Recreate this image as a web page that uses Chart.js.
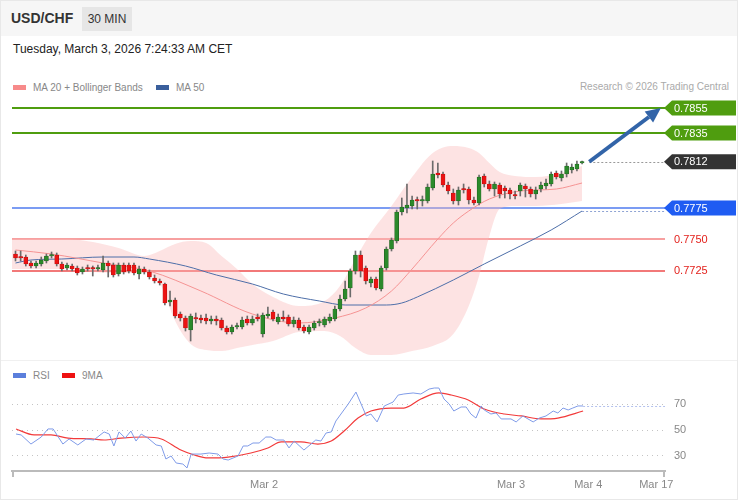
<!DOCTYPE html>
<html>
<head>
<meta charset="utf-8">
<script src="https://cdn.jsdelivr.net/npm/chart.js@4.4.1/dist/chart.umd.min.js"></script>
<style>
  body { margin: 0; background: #fff; font-family: "Liberation Sans", Arial, sans-serif; }
  #wrap { position: relative; width: 738px; height: 500px; box-sizing: border-box; border: 1px solid #e8e8e8; overflow: hidden; }
  #head { position: absolute; left: 0; top: 0; width: 738px; height: 35px; background: #f6f6f6; }
  #pair { position: absolute; left: 10px; top: 9px; font-size: 14px; font-weight: bold; color: #333; }
  #tf { position: absolute; left: 81px; top: 6px; width: 50px; height: 24px; line-height: 24px; text-align: center; background: #e6e6e6; font-size: 12px; color: #333; }
  #date { position: absolute; left: 12px; top: 41px; font-size: 12px; color: #222; }
  .legend { position: absolute; font-size: 10px; color: #888; white-space: nowrap; }
  .sw { display: inline-block; width: 13px; height: 5px; vertical-align: middle; margin-right: 7px; position: relative; top: -1px; }
  #credit { position: absolute; right: 8px; top: 80px; font-size: 10px; color: #aaa; }
  #sep { position: absolute; left: 0; top: 359px; width: 738px; height: 1px; background: #f0f0f0; }
  canvas { position: absolute; left: 0; }
</style>
</head>
<body>
<div id="wrap">
  <div id="head">
    <div id="pair">USD/CHF</div>
    <div id="tf">30 MIN</div>
  </div>
  <div id="date">Tuesday, March 3, 2026 7:24:33 AM CET</div>
  <div class="legend" style="left:12px;top:81px"><span class="sw" style="background:#f78a8a"></span>MA 20 + Bollinger Bands</div>
  <div class="legend" style="left:155px;top:81px"><span class="sw" style="background:#3a5f9c"></span>MA 50</div>
  <div id="credit">Research © 2026 Trading Central</div>
  <div id="sep"></div>
  <div class="legend" style="left:12px;top:369px"><span class="sw" style="background:#5b7fdc"></span>RSI</div>
  <div class="legend" style="left:61px;top:369px"><span class="sw" style="background:#ee1111"></span>9MA</div>
  <canvas id="main" width="738" height="265" style="top:95px"></canvas>
  <canvas id="rsi" width="738" height="139" style="top:360px"></canvas>
</div>
<script>
// ---- price candles (30 min bars, index 0..110) ----
const opens = [0.77382,0.77358,0.77358,0.77310,0.77286,0.77302,0.77326,0.77366,0.77374,0.77302,
  0.77270,0.77286,0.77270,0.77238,0.77270,0.77270,0.77262,0.77254,0.77310,0.77294,
  0.77222,0.77294,0.77294,0.77294,0.77222,0.77262,0.77238,0.77190,0.77166,0.77142,
  0.76998,0.77014,0.76902,0.76870,0.76774,0.76870,0.76870,0.76870,0.76846,0.76862,
  0.76854,0.76790,0.76758,0.76798,0.76798,0.76862,0.76830,0.76878,0.76742,0.76886,
  0.76918,0.76838,0.76878,0.76878,0.76822,0.76854,0.76798,0.76758,0.76790,0.76830,
  0.76814,0.76846,0.76862,0.76942,0.77022,0.77110,0.77246,0.77374,0.77270,0.77150,
  0.77182,0.77102,0.77270,0.77422,0.77486,0.77718,0.77750,0.77766,0.77814,0.77806,
  0.77806,0.77910,0.78030,0.78022,0.77934,0.77870,0.77806,0.77902,0.77902,0.77814,
  0.77790,0.78006,0.77942,0.77902,0.77934,0.77910,0.77894,0.77854,0.77886,0.77926,
  0.77902,0.77862,0.77902,0.77926,0.77942,0.78030,0.77990,0.78022,0.78054,0.78062,
  0.78110];
const closes = [0.77350,0.77350,0.77302,0.77286,0.77310,0.77334,0.77366,0.77374,0.77302,0.77262,
  0.77294,0.77262,0.77230,0.77262,0.77262,0.77262,0.77270,0.77310,0.77286,0.77214,
  0.77294,0.77238,0.77246,0.77230,0.77262,0.77238,0.77198,0.77166,0.77150,0.76990,
  0.77014,0.76886,0.76870,0.76790,0.76886,0.76862,0.76854,0.76846,0.76862,0.76846,
  0.76790,0.76758,0.76798,0.76806,0.76854,0.76830,0.76862,0.76862,0.76894,0.76902,
  0.76862,0.76878,0.76862,0.76822,0.76854,0.76790,0.76766,0.76798,0.76830,0.76838,
  0.76862,0.76878,0.76942,0.77022,0.77102,0.77246,0.77374,0.77246,0.77166,0.77182,
  0.77110,0.77270,0.77422,0.77494,0.77718,0.77758,0.77774,0.77814,0.77806,0.77814,
  0.77918,0.78022,0.78014,0.77934,0.77886,0.77806,0.77894,0.77894,0.77814,0.77790,
  0.77998,0.77942,0.77902,0.77942,0.77862,0.77886,0.77862,0.77846,0.77934,0.77902,
  0.77862,0.77894,0.77934,0.77950,0.78022,0.77998,0.78022,0.78086,0.78078,0.78102,
  0.78118];
const highs = [0.77406,0.77406,0.77374,0.77326,0.77326,0.77358,0.77382,0.77398,0.77390,0.77318,
  0.77310,0.77302,0.77286,0.77278,0.77294,0.77286,0.77294,0.77366,0.77326,0.77310,
  0.77310,0.77310,0.77310,0.77310,0.77286,0.77278,0.77254,0.77214,0.77182,0.77150,
  0.77086,0.77030,0.76918,0.76886,0.76902,0.76910,0.76894,0.76902,0.76886,0.76886,
  0.76870,0.76806,0.76814,0.76830,0.76878,0.76886,0.76886,0.76902,0.76910,0.76958,
  0.76934,0.76902,0.76926,0.76894,0.76878,0.76870,0.76814,0.76814,0.76846,0.76862,
  0.76878,0.76902,0.76966,0.77054,0.77166,0.77262,0.77406,0.77406,0.77286,0.77198,
  0.77198,0.77286,0.77438,0.77510,0.77734,0.77830,0.77942,0.77846,0.77838,0.77846,
  0.77942,0.78126,0.78110,0.78038,0.77958,0.77902,0.77918,0.77942,0.77918,0.77838,
  0.78014,0.78022,0.77966,0.77958,0.77950,0.77926,0.77910,0.77886,0.77950,0.77942,
  0.77918,0.77918,0.77958,0.77982,0.78038,0.78046,0.78046,0.78110,0.78102,0.78126,
  0.78126];
const lows = [0.77326,0.77326,0.77286,0.77270,0.77270,0.77286,0.77310,0.77350,0.77286,0.77246,
  0.77254,0.77246,0.77214,0.77222,0.77246,0.77206,0.77246,0.77238,0.77198,0.77198,
  0.77206,0.77222,0.77230,0.77214,0.77182,0.77222,0.77182,0.77150,0.77134,0.76974,
  0.76966,0.76870,0.76846,0.76766,0.76686,0.76830,0.76830,0.76822,0.76822,0.76814,
  0.76774,0.76742,0.76742,0.76782,0.76782,0.76814,0.76814,0.76846,0.76718,0.76870,
  0.76846,0.76822,0.76846,0.76806,0.76798,0.76774,0.76750,0.76742,0.76774,0.76806,
  0.76798,0.76830,0.76846,0.76926,0.77006,0.77038,0.77222,0.77198,0.77142,0.77118,
  0.77094,0.77086,0.77254,0.77406,0.77470,0.77694,0.77710,0.77742,0.77742,0.77766,
  0.77790,0.77894,0.77990,0.77918,0.77862,0.77782,0.77774,0.77870,0.77782,0.77774,
  0.77774,0.77918,0.77886,0.77846,0.77830,0.77830,0.77822,0.77822,0.77846,0.77838,
  0.77838,0.77822,0.77878,0.77902,0.77926,0.77982,0.77966,0.77998,0.78030,0.78046,
  0.78102];

// ---- indicators (x = bar index) ----
const ma20X = [0, 7, 17, 26, 36, 46, 55, 62, 68, 73, 77, 82, 85, 88, 92, 98, 105, 110];
const ma20 = [0.77414,0.77382,0.77310,0.77246,0.77086,0.76902,0.76830,0.76870,0.76950,0.77086,
  0.77262,0.77502,0.77630,0.77726,0.77822,0.77886,0.77902,0.77950];
const ma50X = [0, 3, 9, 17, 23, 26, 33, 39, 46, 52, 59, 64, 72, 75, 78, 85, 91, 98, 104, 110];
const ma50 = [0.77310,0.77334,0.77342,0.77358,0.77358,0.77342,0.77286,0.77214,0.77142,0.77062,
  0.77006,0.76974,0.76974,0.76990,0.77038,0.77174,0.77302,0.77446,0.77574,0.77726];
const bandX = [-0.7, 5, 10, 15, 20, 25, 28, 31, 34, 37, 40, 43, 46, 50, 55, 60, 63, 66, 69, 73,
  77, 81, 85, 88, 90, 92, 94, 97, 101, 106, 110];
const bandUpper = [0.77502,0.77502,0.77502,0.77478,0.77430,0.77366,0.77406,0.77462,0.77486,0.77470,
  0.77366,0.77262,0.77142,0.77038,0.76966,0.77006,0.77126,0.77342,0.77550,0.77766,
  0.77998,0.78190,0.78246,0.78230,0.78190,0.78110,0.78038,0.78006,0.77998,0.78030,0.78086];
const bandLower = [0.77262,0.77262,0.77262,0.77238,0.77230,0.77230,0.77150,0.76846,0.76662,0.76614,
  0.76606,0.76630,0.76654,0.76686,0.76758,0.76766,0.76726,0.76630,0.76574,0.76574,
  0.76606,0.76646,0.76742,0.76966,0.77206,0.77526,0.77742,0.77766,0.77766,0.77782,0.77806];

// ---- key levels ----
const levels = [0.7855, 0.7835, 0.7812, 0.7775, 0.7750, 0.7725];
const levelLabels = ['0.7855', '0.7835', '0.7812', '0.7775', '0.7750', '0.7725'];
const levelKinds = ['res', 'res', 'last', 'pivot', 'sup1', 'sup2'];
const arrowFrom = { x: 111.4, y: 0.7812 };
const arrowTo = { x: 125.3, y: 0.7855 };

// ---- RSI panel ----
const rsiX = [0.1,1.1,3.0,5.0,6.3,7.3,9.2,10.4,12.1,13.7,15.2,17.2,18.2,19.1,20.1,21.3,22.4,23.4,24.4,25.7,
  27.3,28.3,29.2,30.2,31.2,32.5,33.3,34.1,36.0,37.6,39.3,40.3,41.3,43.2,44.2,45.1,46.1,47.3,48.6,49.6,
  50.6,52.1,53.1,54.1,56.0,58.3,59.3,60.3,61.3,62.2,64.6,66.1,67.1,68.1,69.0,70.2,71.6,73.3,74.3,75.4,
  77.2,78.7,80.3,81.3,82.2,83.2,84.2,85.1,86.5,87.5,88.4,89.4,90.4,91.0,92.3,93.3,94.3,96.2,97.2,98.5,
  99.5,100.5,101.7,103.0,104.4,105.3,106.3,107.3,108.2,109.2,110.2];
const rsi = [46.9,46.2,39.2,44.6,50.8,50.8,39.2,43.1,38.5,43.1,42.3,48.5,46.9,37.7,48.5,43.8,49.2,41.5,46.9,43.8,
  38.5,37.7,27.7,30.0,24.6,23.8,20.8,31.5,31.5,32.3,31.5,27.7,26.9,30.0,37.7,37.7,40.0,40.0,44.6,44.6,
  42.3,42.3,36.2,41.5,34.6,42.3,41.5,47.7,48.5,56.9,70.0,79.2,70.0,60.8,62.3,56.2,68.5,71.5,76.9,77.7,
  78.5,77.7,81.5,82.3,82.3,73.8,70.0,64.6,67.7,67.7,62.3,59.2,68.5,65.4,62.3,63.1,58.5,58.5,56.2,60.8,
  58.5,56.2,59.2,60.8,64.6,63.1,66.9,65.4,66.9,68.5,68.5];
const rsiMaX = [0.1,3.6,6.9,10.2,14.7,17.2,20.5,25.0,28.3,32.1,34.7,37.4,41.3,45.7,49.0,51.6,55.4,58.7,61.3,63.8,
  66.5,69.0,72.9,75.4,78.7,82.2,84.6,87.9,91.0,94.9,98.2,102.0,105.3,110.2];
const rsiMa = [50.8,46.2,46.2,43.8,43.1,42.3,43.8,44.6,43.1,34.6,30.8,28.5,29.2,32.3,36.2,40.8,40.8,39.2,41.5,49.2,
  59.2,64.6,66.9,66.9,73.8,78.5,76.9,73.1,66.2,62.3,60.8,58.5,59.2,64.6];
const rsiTicks = [30, 50, 70];
const dateTicks = [48.25, 96.2, 111.2, 124.4];
const dateLabels = ['Mar 2', 'Mar 3', 'Mar 4', 'Mar 17'];

Chart.defaults.font.family = '"Liberation Sans", Arial, sans-serif';
Chart.defaults.animation = false;

const X_MIN = -0.68, X_MAX = 126.1;
const UP = '#2b8a2b', DOWN = '#ec1313';

function pts(xs, ys) { return xs.map((x, i) => ({ x: x, y: ys[i] })); }

const idx = opens.map((_, i) => i);

const levelStyle = {
  res:   { line: '#4f9d0f', width: 2, tag: '#4f9d0f', text: '#ffffff' },
  last:  { line: '#999999', width: 1, dash: [2, 2], tag: '#333333', text: '#ffffff' },
  pivot: { line: '#7b9cf3', width: 2, tag: '#1f5cf2', text: '#ffffff' },
  sup1:  { line: '#f58080', width: 1.3, tag: null, text: '#e3211c' },
  sup2:  { line: '#ee4c4c', width: 1.3, tag: null, text: '#e3211c' }
};

const levelsPlugin = {
  id: 'levels',
  beforeDatasetsDraw(chart) {
    const { ctx, chartArea: a, scales: { x, y } } = chart;
    ctx.save();
    levels.forEach((v, i) => {
      const st = levelStyle[levelKinds[i]];
      const py = Math.round(y.getPixelForValue(v)) + (st.width === 1 ? 0.5 : 0);
      const x0 = levelKinds[i] === 'last' ? x.getPixelForValue(arrowFrom.x) : a.left;
      ctx.strokeStyle = st.line;
      ctx.lineWidth = st.width;
      ctx.setLineDash(st.dash || []);
      ctx.beginPath();
      ctx.moveTo(x0, py);
      ctx.lineTo(a.right, py);
      ctx.stroke();
    });
    // MA 50 dotted projection
    const last = ma50.length - 1;
    const my = Math.round(y.getPixelForValue(ma50[last])) + 0.5;
    ctx.strokeStyle = '#8fa4d4';
    ctx.lineWidth = 1;
    ctx.setLineDash([2, 2]);
    ctx.beginPath();
    ctx.moveTo(x.getPixelForValue(ma50X[last]), my);
    ctx.lineTo(a.right, my);
    ctx.stroke();
    ctx.restore();
  },
  afterDraw(chart) {
    const { ctx, chartArea: a, scales: { x, y } } = chart;
    ctx.save();
    // arrow
    const x1 = x.getPixelForValue(arrowFrom.x), y1 = y.getPixelForValue(arrowFrom.y);
    const x2 = x.getPixelForValue(arrowTo.x), y2 = y.getPixelForValue(arrowTo.y);
    const ang = Math.atan2(y2 - y1, x2 - x1);
    const hl = 15, hw = 7;
    const bx = x2 - hl * Math.cos(ang), by = y2 - hl * Math.sin(ang);
    ctx.strokeStyle = '#3264a8';
    ctx.fillStyle = '#3264a8';
    ctx.lineWidth = 4;
    ctx.beginPath();
    ctx.moveTo(x1, y1);
    ctx.lineTo(bx, by);
    ctx.stroke();
    ctx.beginPath();
    ctx.moveTo(x2, y2);
    ctx.lineTo(bx + hw * Math.sin(ang), by - hw * Math.cos(ang));
    ctx.lineTo(bx - hw * Math.sin(ang), by + hw * Math.cos(ang));
    ctx.closePath();
    ctx.fill();
    // tags
    ctx.font = '11px "Liberation Sans", Arial, sans-serif';
    ctx.textBaseline = 'middle';
    levels.forEach((v, i) => {
      const st = levelStyle[levelKinds[i]];
      const py = y.getPixelForValue(v);
      const tx = a.right - 1;
      if (st.tag) {
        ctx.fillStyle = st.tag;
        ctx.beginPath();
        ctx.moveTo(tx, py);
        ctx.lineTo(tx + 8, py - 7.5);
        ctx.lineTo(tx + 72, py - 7.5);
        ctx.lineTo(tx + 72, py + 7.5);
        ctx.lineTo(tx + 8, py + 7.5);
        ctx.closePath();
        ctx.fill();
      }
      ctx.fillStyle = st.text;
      ctx.fillText(levelLabels[i], tx + 10, py + 0.5);
    });
    ctx.restore();
  }
};

new Chart(document.getElementById('main'), {
  type: 'bar',
  data: {
    datasets: [
      {
        type: 'bar', label: 'body', order: 0,
        data: idx.map(i => ({ x: i, y: [opens[i], closes[i]] })),
        backgroundColor: idx.map(i => closes[i] >= opens[i] ? UP : DOWN),
        borderColor: idx.map(i => closes[i] >= opens[i] ? '#1d5e1d' : '#b30d0d'),
        borderWidth: 0.6, borderSkipped: false,
        barThickness: 4, minBarLength: 1.5, grouped: false
      },
      {
        type: 'bar', label: 'wick', order: 1,
        data: idx.map(i => ({ x: i, y: [lows[i], highs[i]] })),
        backgroundColor: '#6b6b6b', barThickness: 1, grouped: false
      },
      {
        type: 'line', label: 'MA 20', order: 2, data: pts(ma20X, ma20),
        borderColor: '#f59393', borderWidth: 1, pointRadius: 0, cubicInterpolationMode: 'monotone'
      },
      {
        type: 'line', label: 'MA 50', order: 3, data: pts(ma50X, ma50),
        borderColor: '#4d6ea8', borderWidth: 1, pointRadius: 0, cubicInterpolationMode: 'monotone'
      },
      {
        type: 'line', label: 'BB up', order: 5, data: pts(bandX, bandUpper),
        borderWidth: 0, pointRadius: 0, fill: '+1',
        backgroundColor: 'rgba(250,186,186,0.4)', cubicInterpolationMode: 'monotone'
      },
      {
        type: 'line', label: 'BB low', order: 6, data: pts(bandX, bandLower),
        borderWidth: 0, pointRadius: 0, fill: false, cubicInterpolationMode: 'monotone'
      }
    ]
  },
  options: {
    responsive: false,
    layout: { padding: { left: 11, right: 74, top: 0, bottom: 0 } },
    scales: {
      x: { type: 'linear', min: X_MIN, max: X_MAX, display: false, offset: false },
      y: { min: 0.76526, max: 0.78646, display: false }
    },
    plugins: { legend: { display: false }, tooltip: { enabled: false } }
  },
  plugins: [levelsPlugin]
});

const rsiPlugin = {
  id: 'rsiExtras',
  afterDatasetsDraw(chart) {
    const { ctx, chartArea: a, scales: { x, y } } = chart;
    ctx.save();
    const last = rsi.length - 1;
    const py = Math.round(y.getPixelForValue(rsi[last])) + 0.5;
    ctx.strokeStyle = '#b4c2ee';
    ctx.lineWidth = 1;
    ctx.setLineDash([2, 2]);
    ctx.beginPath();
    ctx.moveTo(x.getPixelForValue(rsiX[last]), py);
    ctx.lineTo(a.right, py);
    ctx.stroke();
    // end caps of the time axis
    ctx.setLineDash([]);
    ctx.strokeStyle = '#bbbbbb';
    ctx.lineWidth = 2;
    ctx.beginPath();
    ctx.moveTo(a.left + 1, a.bottom);
    ctx.lineTo(a.left + 1, a.bottom + 6);
    ctx.moveTo(a.right - 1, a.bottom);
    ctx.lineTo(a.right - 1, a.bottom + 6);
    ctx.stroke();
    ctx.restore();
  }
};

new Chart(document.getElementById('rsi'), {
  type: 'line',
  data: {
    datasets: [
      {
        label: 'RSI', data: pts(rsiX, rsi), borderColor: '#7f9be8', borderWidth: 1,
        pointRadius: 0, tension: 0
      },
      {
        label: '9MA', data: pts(rsiMaX, rsiMa), borderColor: '#f23a3a', borderWidth: 1.2,
        pointRadius: 0, cubicInterpolationMode: 'monotone'
      }
    ]
  },
  options: {
    responsive: false,
    layout: { padding: { left: 11, right: 0, top: 25, bottom: 0 } },
    scales: {
      x: {
        type: 'linear', min: X_MIN, max: X_MAX,
        afterBuildTicks: s => { s.ticks = dateTicks.map(v => ({ value: v })); },
        afterFit: s => { s.height = 29; },
        grid: { display: false, drawTicks: false },
        border: { display: true, color: '#bbbbbb', width: 2 },
        ticks: {
          autoSkip: false, maxRotation: 0, padding: 7, color: '#888', font: { size: 11 },
          callback: (v, i) => dateLabels[i]
        }
      },
      y: {
        position: 'right', min: 18.46, max: 83.85,
        afterBuildTicks: s => { s.ticks = rsiTicks.map(v => ({ value: v })); },
        afterFit: s => { s.width = 74; },
        grid: { color: '#c4c4c4', drawTicks: false, lineWidth: 1 },
        border: { display: false, dash: [1, 4] },
        ticks: { padding: 9, color: '#888', font: { size: 11 } }
      }
    },
    plugins: { legend: { display: false }, tooltip: { enabled: false } }
  },
  plugins: [rsiPlugin]
});
</script>
</body>
</html>
